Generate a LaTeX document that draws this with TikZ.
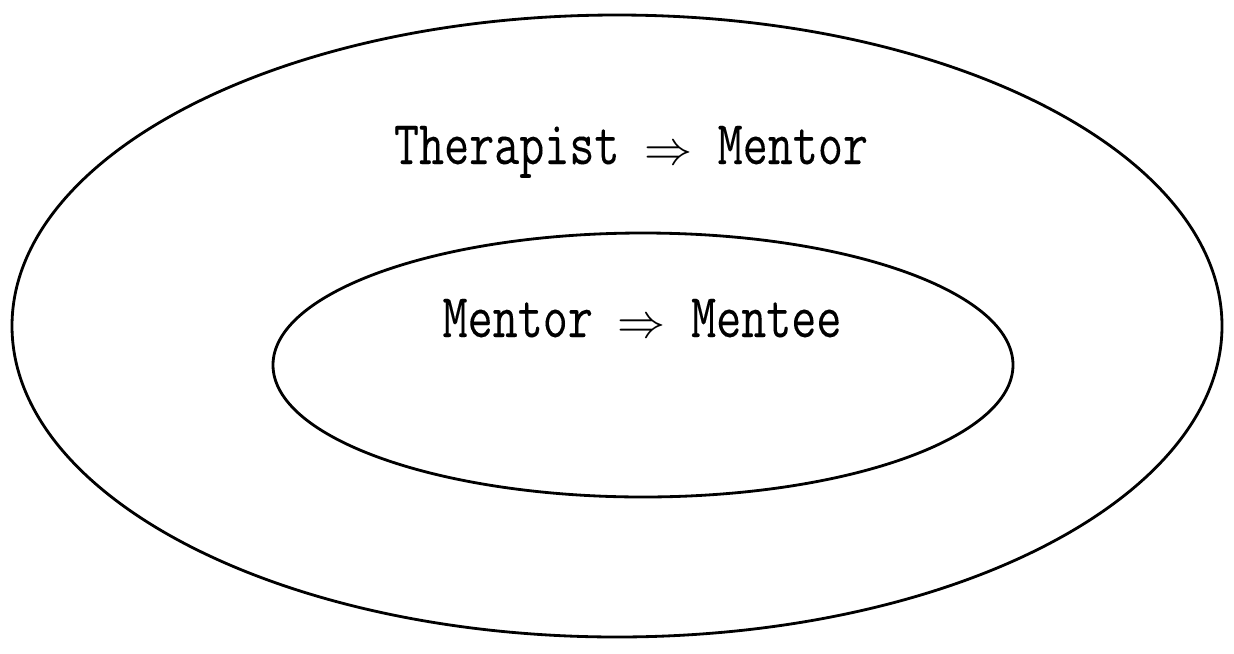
\documentclass[tikz,border=0pt]{standalone}
\usepackage{fontspec}
\newfontfamily\labelfont[FakeStretch=0.78,FakeBold=0.1]{Latin Modern Mono}
\begin{document}
\begin{tikzpicture}[x=0.02cm,y=-0.02cm,
  ring/.style={draw=black,line width=1.6pt},
  lbl/.style={font=\labelfont\fontsize{35.5}{40}\selectfont,anchor=base,inner sep=0pt}]
\useasboundingbox (0,0) rectangle (1234,653);
\draw[ring] (617,326) ellipse [x radius=605, y radius=311];
\draw[ring] (643,365) ellipse [x radius=370, y radius=132];
\node[lbl] (outer) at (631,164) {Therapist \scalebox{1.1}{$\Rightarrow$} Mentor};
\node[lbl] (inner) at (642,337) {Mentor \scalebox{1.1}{$\Rightarrow$} Mentee};
\end{tikzpicture}
\end{document}
